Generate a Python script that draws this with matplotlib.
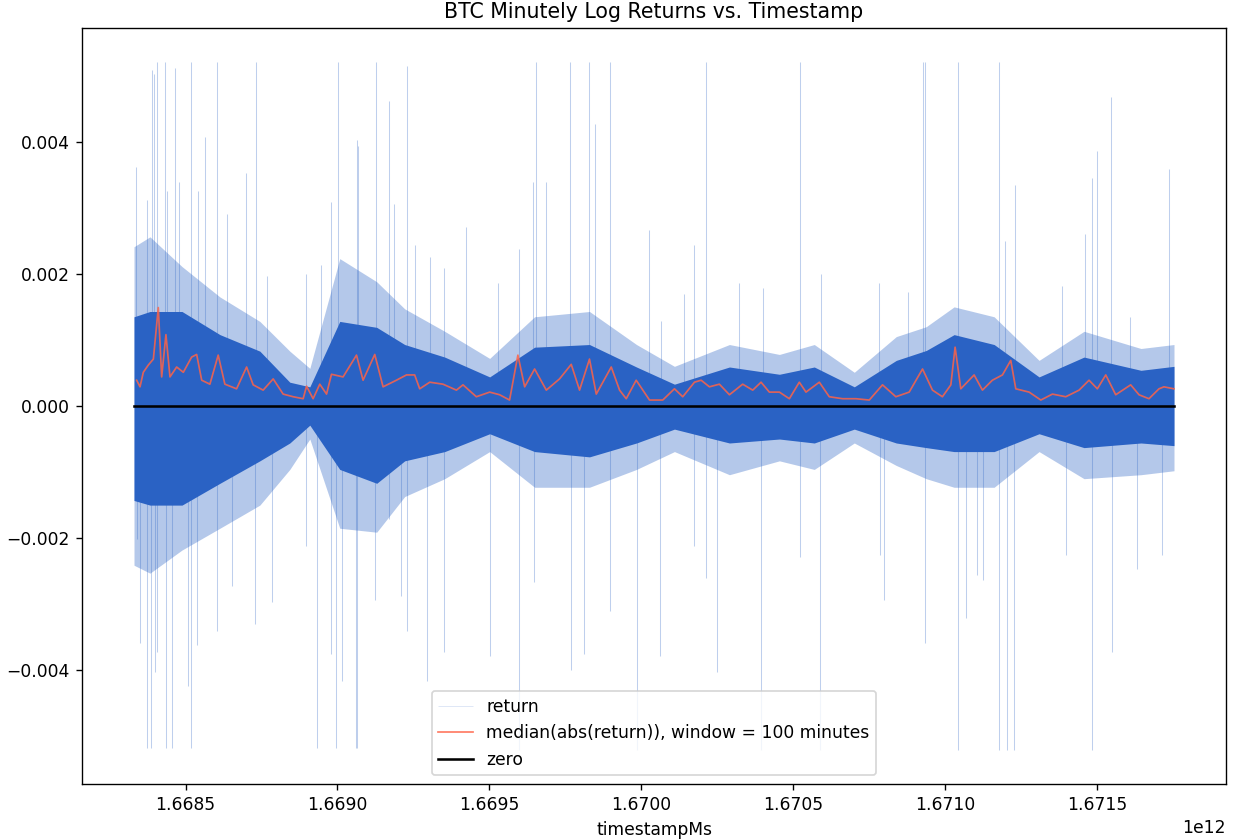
import numpy as np
import matplotlib
matplotlib.use("Agg")
import matplotlib.pyplot as plt

# start of the series (ms), positions below are hours after it
t0 = 1668330000000

# envelope of the minutely returns (units of 1e-4)
env_hours = [0, 14.6, 43.9, 78.6, 115.1, 142.5, 160.8, 188.2, 222.0, 247.6, 284.2, 325.3, 366.4, 416.6,
             459.6, 494.3, 544.6, 590.3, 622.2, 658.8, 697.2, 724.6, 750.1, 786.7, 827.8, 868.9, 921.0, 951.2]
core_hi = [13.5, 14.3, 14.3, 10.8, 8.3, 3.6, 2.9, 12.8, 11.9, 9.3, 7.4, 4.4, 8.9, 9.3,
           5.9, 3.3, 5.9, 4.8, 5.9, 2.9, 6.9, 8.4, 10.8, 9.3, 4.4, 7.4, 5.4, 6.0]
outer_hi = [24.1, 25.6, 21.1, 16.5, 12.8, 8.3, 5.7, 22.3, 18.8, 14.7, 11.3, 7.2, 13.5, 14.3,
            9.3, 6.0, 9.3, 7.8, 9.3, 5.1, 10.5, 12.0, 15.0, 13.5, 6.9, 11.3, 8.7, 9.3]
core_lo = [-14.3, -15.0, -15.0, -11.7, -8.3, -5.6, -2.9, -9.6, -11.7, -8.3, -6.9, -4.2, -6.9, -7.7,
           -5.6, -3.5, -5.6, -5.0, -5.6, -3.5, -5.6, -6.3, -6.9, -6.9, -4.2, -6.3, -5.6, -6.0]
outer_lo = [-24.1, -25.3, -21.8, -18.5, -15.0, -9.6, -5.0, -18.5, -19.1, -13.7, -11.0, -6.9, -12.3, -12.3,
            -9.6, -6.9, -10.4, -8.3, -9.6, -5.6, -9.0, -11.0, -12.3, -12.3, -6.9, -11.0, -10.4, -9.8]

# single large returns (hours, value in 1e-4), clipped at +-52
spike_hours = [1.8, 11.6, 16.2, 18.3, 21.3, 28.3, 29.9, 37.5, 41.4, 51.8, 58.8, 64.9, 76.1, 85.3, 102.1,
               111.2, 121.2, 156.9, 170.6, 180.6, 186.7, 203.5, 205.0, 221.1, 233.3, 237.8,
               2.4, 5.5, 11.6, 15.3, 19.2, 21.3, 29.0, 34.4, 49.6, 52.1, 57.3, 76.1, 89.3, 110.6,
               125.8, 156.9, 167.5, 180.6, 185.2, 190.3, 202.6, 204.4, 220.8, 233.3,
               249.7, 256.7, 271.1, 283.2, 304.0, 332.9, 352.0, 364.8, 367.3, 376.4, 399.0, 416.6,
               421.2, 435.8, 470.8,
               244.6, 249.7, 268.3, 283.2, 325.3, 351.8, 365.8, 399.3, 411.2, 435.8, 459.9,
               482.2, 502.8, 512.6, 523.3, 553.7, 575.0, 609.2, 628.3, 681.6, 707.5,
               481.5, 512.6, 523.3, 533.3, 573.5, 609.4, 627.7, 682.5, 686.2,
               721.2, 723.6, 753.2, 791.3, 796.7, 805.9, 848.5, 869.9, 876.5, 881.1, 893.3, 911.0, 946.6,
               723.6, 754.1, 760.8, 771.4, 776.6, 791.3, 798.3, 805.0, 852.7, 876.5, 894.8, 917.1, 940.5]
spike_vals = [36.2, 31.1, 50.9, 50.2, 52, 52, 32.5, 51.2, 33.9, 52, 32.5, 40.7, 52, 29.1, 35.2,
              52, 19.6, 19.9, 21.3, 30.8, 52, 40.3, 39.3, 52, 46.1, 30.5,
              -20.2, -35.8, -51.8, -51.8, -40.3, -37.2, -51.8, -51.8, -42.3, -51.8, -36.2, -34.1, -27.3, -33.0,
              -29.7, -21.2, -51.8, -37.5, -51.8, -41.6, -51.8, -51.8, -29.4, -17.1,
              51.5, 24.3, 22.6, 20.9, 27.1, 18.6, 23.7, 33.9, 52, 33.9, 52, 52,
              42.7, 52, 26.7,
              -28.7, -34.1, -41.6, -37.2, -37.9, -52, -26.7, -39.9, -37.5, -31.1, -52,
              12.8, 16.9, 24.3, 52, 18.6, 17.9, 52, 19.9, 18.6, 17.2,
              -37.9, -21.2, -26.0, -40.3, -52, -22.9, -52, -22.6, -29.4,
              52, 52, 52, 52, 25.0, 33.5, 18.2, 26.0, 34.5, 38.6, 46.8, 13.5, 35.9,
              -35.8, -52, -32.1, -25.6, -26.3, -52, -52, -52, -22.6, -52, -37.2, -24.6, -22.6]

# rolling median of abs(return), window = 100 minutes (units of 1e-4)
med_hours = [2.4, 5.5, 8.5, 13.1, 17.7, 22.2, 25.3, 29.2, 32.9, 39.0, 45.1, 52.7, 57.3, 61.9, 69.4, 77.0,
             83.1, 93.8, 103.0, 109.0, 118.1, 127.3, 136.4, 145.6, 154.7, 157.8, 163.8, 169.9, 176.1, 180.6,
             191.2, 203.5, 209.5, 220.2, 227.8, 240.0, 249.2, 256.7, 261.3, 270.5, 282.6, 294.9, 300.9,
             313.1, 325.3, 334.4, 343.5, 351.1, 357.3, 366.4, 377.1, 389.2, 399.9, 407.5, 416.6, 422.8,
             436.5, 444.1, 450.2, 459.3, 471.5, 483.6, 494.3, 501.9, 512.6, 518.7, 526.3, 535.4, 544.6,
             556.7, 565.9, 573.5, 581.1, 590.3, 599.4, 608.5, 614.6, 626.8, 635.9, 648.1, 660.3, 672.5,
             684.6, 696.8, 709.0, 721.2, 730.3, 739.4, 747.1, 751.0, 756.2, 768.4, 776.0, 785.1, 794.3,
             801.9, 806.5, 818.7, 829.4, 840.0, 852.2, 864.4, 873.5, 881.1, 888.8, 897.9, 911.6, 919.2,
             928.3, 937.5, 942.0, 951.2]
med_vals = [3.9, 2.9, 5.1, 6.2, 7.1, 14.9, 4.4, 10.8, 4.4, 5.9, 5.1, 7.4, 7.8, 3.9, 3.3, 7.7,
            3.3, 2.6, 5.9, 3.2, 2.4, 4.1, 1.8, 1.4, 1.1, 3.0, 1.1, 3.3, 1.8, 4.8,
            4.4, 7.7, 3.9, 7.8, 2.9, 3.9, 4.7, 4.7, 2.6, 3.6, 3.3, 2.4, 3.2,
            1.4, 2.1, 1.7, 0.9, 7.7, 2.9, 5.6, 2.4, 4.1, 6.3, 2.4, 7.1, 1.8,
            5.9, 2.4, 1.1, 3.9, 0.9, 0.9, 2.6, 1.4, 3.6, 3.9, 2.9, 3.3, 1.7,
            3.3, 2.4, 3.6, 2.1, 2.1, 1.1, 3.6, 2.1, 3.6, 1.4, 1.1, 1.1, 0.9,
            3.2, 1.4, 2.1, 5.6, 2.4, 1.4, 3.2, 8.9, 2.6, 4.7, 2.4, 3.9, 4.7,
            6.9, 2.6, 2.1, 0.9, 1.8, 1.4, 2.4, 3.9, 2.6, 4.7, 1.7, 3.2, 1.7,
            1.1, 2.6, 2.9, 2.6]

to_ms = 3.6e6
env_t = t0 + np.array(env_hours) * to_ms
spike_t = t0 + np.array(spike_hours) * to_ms
med_t = t0 + np.array(med_hours) * to_ms

blue = '#2a62c4'
dpi = 123

fig = plt.figure(figsize=(1237 / dpi, 839 / dpi), dpi=dpi)
ax = fig.add_axes([0.0663, 0.0656, 0.9248, 0.901])

ax.fill_between(env_t, np.array(outer_lo) * 1e-4, np.array(outer_hi) * 1e-4,
                color=blue, alpha=0.35, lw=0)
ax.fill_between(env_t, np.array(core_lo) * 1e-4, np.array(core_hi) * 1e-4,
                color=blue, lw=0)
ax.vlines(spike_t, 0, np.array(spike_vals) * 1e-4, color=blue, alpha=0.3, lw=0.6, label='return')
ax.plot(med_t, np.array(med_vals) * 1e-4, color='tomato', alpha=0.85, lw=1,
        label='median(abs(return)), window = 100 minutes')
ax.plot([env_t[0], env_t[-1]], [0, 0], color='black', lw=1.5, label='zero')

ax.set_title('BTC Minutely Log Returns vs. Timestamp')
ax.set_xlabel('timestampMs')
leg = ax.legend(loc='lower center')
leg.legend_handles[0].set_alpha(0.15)

fig.savefig('out.png', dpi=dpi)
